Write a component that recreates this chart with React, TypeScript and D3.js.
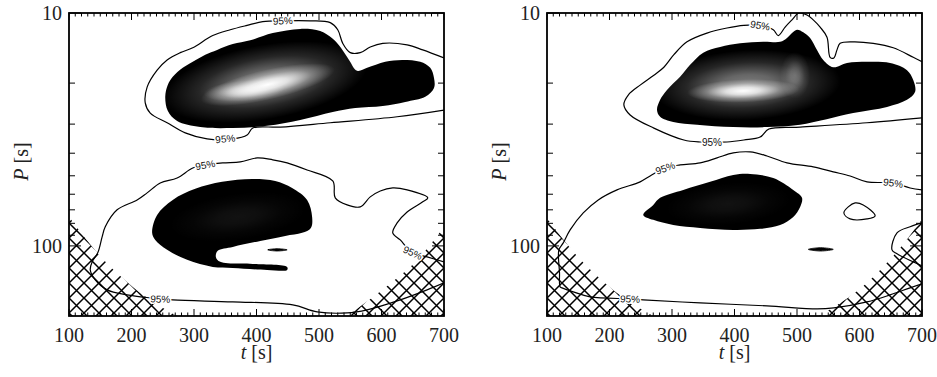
import React from "react";
import * as d3 from "d3";

type Pt = [number, number];
type Glow = { t: number; p: number; rt: number; rd: number; peak: number; angle: number; blob: number };
type Label = { t: number; p: number; angle: number };

const T_DOMAIN: Pt = [100, 700];
const P_DOMAIN: Pt = [10, 200];
const T_TICK_LABELS = [100, 200, 300, 400, 500, 600, 700];
const P_TICK_LABELS = [10, 100];
const P_MINOR_TICKS = [20, 30, 40, 50, 60, 70, 80, 90];
const CONTOUR_LABEL = "95%";

// ---------------- Left panel ----------------
const leftTopBlob: Pt[] = [
  [254, 22.9], [258, 20.4], [266, 18.8], [282, 17.2], [298, 16.2], [318, 15.1], [337, 14.4], [362, 13.6],
  [390, 13.1], [426, 12.2], [470, 11.7], [502, 11.95], [522, 12.9], [535, 14.1], [548, 15.9], [561, 17.7],
  [577, 17.2], [606, 16.2], [633, 15.9], [662, 16.2], [678, 17.2], [684, 19.0], [684, 21.0], [670, 22.9],
  [638, 24.1], [602, 25.1], [558, 25.6], [522, 26.6], [470, 28.8], [417, 30.5], [362, 31.2], [310, 30.9],
  [273, 29.1], [258, 26.3],
];
const leftBottomBlob: Pt[] = [
  [233, 87.9], [241, 73.6], [266, 63.5], [302, 56.9], [345, 53.1], [393, 51.6], [430, 52.6], [457, 56.4],
  [481, 63.5], [489, 75.1], [487, 83.7], [473, 87.9], [446, 90.6], [406, 95.2], [362, 101.0], [338, 105.0],
  [335, 111.5], [342, 117.1], [394, 119.5], [449, 123.1], [449, 126.8], [417, 126.8], [362, 124.3],
  [330, 123.1], [289, 114.8], [257, 104.0], [238, 94.3],
];
const leftSliver: Pt[] = [[418, 104], [433, 102.8], [449, 104], [433, 105.2]];
const leftContourUpper: Pt[] = [
  [700, 26.1], [625, 27.9], [518, 29.6], [438, 30.9], [394, 31.2], [385, 33.4], [362, 34.7], [321, 34.7],
  [286, 32.7], [257, 29.6], [230, 26.9], [222, 24.3], [225, 20.8], [241, 17.6], [257, 15.9], [278, 14.8],
  [298, 14.1], [330, 12.5], [358, 11.8], [385, 11.3], [410, 10.9], [442, 10.8], [486, 10.8], [518, 11.0],
  [530, 11.8], [538, 13.5], [550, 14.8], [566, 14.8], [582, 14.0], [602, 13.5], [641, 13.7], [666, 14.4],
  [700, 15.6],
];
const leftContourLower: Pt[] = [
  [700, 117.1], [673, 111.5], [650, 107.1], [641, 102.0], [630, 94.3], [618, 87.9], [625, 79.7], [641, 71.5],
  [666, 64.7], [674, 62.2], [641, 57.5], [618, 56.4], [598, 58.1], [582, 61.6], [566, 68.0], [545, 66.7],
  [526, 62.2], [522, 52.6], [481, 47.2], [449, 44.0], [426, 42.7], [401, 41.9], [374, 43.6], [346, 44.0],
  [318, 44.9], [298, 46.3], [273, 51.1], [246, 53.7], [225, 59.2], [209, 63.5], [177, 70.0], [158, 82.8],
  [153, 91.5], [146, 107.1], [137, 117.1], [134, 126.8], [142, 140.0], [161, 154.5], [193, 162.3],
  [230, 167.2], [266, 170.6], [362, 173.9], [458, 179.2], [497, 192], [545, 194], [577, 188.2],
  [630, 170.6], [673, 154.5], [700, 144.2],
];
const leftLabels: Label[] = [
  { t: 442, p: 10.8, angle: -2 },
  { t: 350, p: 34.7, angle: -5 },
  { t: 318, p: 44.9, angle: -10 },
  { t: 650, p: 107.1, angle: 24 },
  { t: 246, p: 169, angle: 2 },
];
const leftGlows: Glow[] = [
  { t: 414, p: 19.8, rt: 165, rd: 0.16, peak: 0.5, angle: -10, blob: 0 },
  { t: 418, p: 20.3, rt: 110, rd: 0.065, peak: 1, angle: -13, blob: 0 },
  { t: 380, p: 21.6, rt: 65, rd: 0.045, peak: 0.6, angle: -4, blob: 0 },
  { t: 370, p: 75, rt: 110, rd: 0.1, peak: 0.07, angle: -8, blob: 1 },
];
const leftCoiStart: Pt[] = [[100, 75], [145, 107], [202, 150], [273, 200]];
const leftCoiEnd: Pt[] = [[545, 200], [602, 154], [657, 115], [700, 83]];

// ---------------- Right panel ----------------
const rightTopBlob: Pt[] = [
  [276, 26.1], [281, 23.6], [292, 21.4], [313, 18.8], [329, 16.7], [350, 14.8], [377, 14.0], [409, 13.5],
  [446, 13.3], [473, 13.3], [484, 12.8], [492, 12.2], [500, 11.8], [510, 12.1], [521, 12.8], [532, 14.4],
  [542, 15.9], [558, 17.1], [580, 16.4], [612, 16.2], [649, 16.4], [676, 17.6], [686, 19.4], [689, 21.8],
  [676, 23.6], [644, 25.3], [590, 26.9], [505, 30.2], [452, 30.9], [398, 30.9], [340, 30.2], [302, 29.4],
  [281, 27.9],
];
const rightBottomBlob: Pt[] = [
  [254, 73.6], [270, 66.7], [281, 62.2], [318, 57.5], [361, 53.1], [398, 49.6], [425, 49.1], [462, 51.1],
  [494, 57.5], [508, 62.2], [505, 68.0], [494, 75.1], [473, 81.3], [441, 84.5], [398, 85.4], [345, 83.7],
  [302, 81.3], [270, 77.3],
];
const rightSliver: Pt[] = [[518, 103.5], [538, 101.8], [558, 103.5], [538, 105.2]];
const rightContourUpper: Pt[] = [
  [700, 28.2], [612, 29.6], [505, 30.9], [455, 31.5], [441, 34.1], [415, 35.1], [388, 35.8], [364, 35.8],
  [345, 35.8], [319, 35.1], [271, 31.2], [233, 27.4], [223, 24.8], [230, 22.5], [249, 20.4], [271, 18.5],
  [287, 17.1], [303, 15.1], [324, 13.3], [356, 12.2], [388, 11.6], [415, 11.3], [441, 11.3], [462, 11.8],
  [470, 12.5], [481, 11.5], [492, 10.7], [503, 10.0], [516, 10.2], [526, 10.7], [537, 11.5], [548, 12.7],
  [553, 15.5], [559, 15.6], [564, 14.4], [569, 13.5], [590, 13.3], [622, 13.5], [654, 14.1], [686, 15.5],
  [700, 16.2],
];
const rightContourLower: Pt[] = [
  [700, 57.5], [681, 56.4], [654, 53.7], [612, 53.1], [585, 50.1], [558, 48.1], [526, 45.8], [484, 44.0],
  [452, 41.1], [425, 39.5], [398, 39.9], [372, 41.9], [345, 44.0], [313, 44.9], [289, 46.3], [265, 50.1],
  [249, 53.1], [212, 57.5], [182, 63.5], [158, 72.2], [137, 85.4], [126, 97.1], [119, 104], [120, 130],
  [121, 150], [124, 151.4], [142, 157.5], [169, 165.5], [233, 168.9], [254, 170.6], [345, 175.7],
  [452, 181.0], [532, 186.4], [559, 184.6], [612, 173.9], [649, 162.3], [681, 151.4], [700, 145.6],
];
const rightContourOval: Pt[] = [[593, 65.4], [606, 66.7], [625, 74.3], [612, 76.6], [585, 76.6], [575, 72.2], [582, 68.0]];
const rightContourEdge: Pt[] = [[700, 79.7], [681, 82.8], [660, 87.9], [652, 104], [660, 108.2], [700, 121.8]];
const rightLabels: Label[] = [
  { t: 441, p: 11.3, angle: 10 },
  { t: 364, p: 35.8, angle: 0 },
  { t: 289, p: 46.3, angle: -20 },
  { t: 654, p: 53.7, angle: 8 },
  { t: 233, p: 168.9, angle: 2 },
];
const rightGlows: Glow[] = [
  { t: 420, p: 20.4, rt: 150, rd: 0.15, peak: 0.5, angle: -3, blob: 0 },
  { t: 414, p: 21.6, rt: 90, rd: 0.05, peak: 1, angle: -2, blob: 0 },
  { t: 497, p: 18.5, rt: 24, rd: 0.1, peak: 0.3, angle: 0, blob: 0 },
  { t: 390, p: 66, rt: 100, rd: 0.09, peak: 0.07, angle: -5, blob: 1 },
];
const rightCoiStart: Pt[] = [[100, 76], [145, 108], [200, 150], [270, 200]];
const rightCoiEnd: Pt[] = [[535, 200], [612, 144], [665, 102], [700, 77]];

type PanelData = {
  blobs: Pt[][];
  slivers: Pt[][];
  openContours: Pt[][];
  closedContours: Pt[][];
  labels: Label[];
  glows: Glow[];
  coiStart: Pt[];
  coiEnd: Pt[];
};

const W = 375;
const H = 303;
const SERIF = "'Liberation Serif', 'DejaVu Serif', serif";
const SANS = "'Liberation Sans', Arial, sans-serif";

function Panel({ id, left, top, d }: { id: string; left: number; top: number; d: PanelData }) {
  const x = d3.scaleLinear().domain(T_DOMAIN).range([0, W]);
  const y = d3.scaleLog().domain(P_DOMAIN).range([0, H]);
  const closed = d3.line<Pt>().x((p) => x(p[0])).y((p) => y(p[1])).curve(d3.curveCatmullRomClosed.alpha(0.5));
  const open = d3.line<Pt>().x((p) => x(p[0])).y((p) => y(p[1])).curve(d3.curveCatmullRom.alpha(0.5));
  const coi = d3.line<Pt>().x((p) => x(p[0])).y((p) => y(p[1])).curve(d3.curveMonotoneX);

  const coiStartPath = coi(d.coiStart) + `L${x(T_DOMAIN[0]) - 2},${y(P_DOMAIN[1]) + 2}L${x(T_DOMAIN[0]) - 2},${y(d.coiStart[0][1])}Z`;
  const coiEndPath = coi(d.coiEnd) + `L${x(T_DOMAIN[1]) + 2},${y(d.coiEnd[d.coiEnd.length - 1][1])}L${x(T_DOMAIN[1]) + 2},${y(P_DOMAIN[1]) + 2}Z`;

  const xMinor = d3.range(T_DOMAIN[0], T_DOMAIN[1] + 1, 10);

  return (
    <g transform={`translate(${left},${top})`}>
      <defs>
        <clipPath id={`${id}-plot`}>
          <rect width={W} height={H} />
        </clipPath>
        {d.blobs.map((b, i) => (
          <clipPath id={`${id}-blob${i}`} key={i}>
            <path d={closed(b) || ""} />
          </clipPath>
        ))}
        <radialGradient id={`${id}-glow`}>
          <stop offset="0" stopColor="#fff" stopOpacity={1} />
          <stop offset="0.3" stopColor="#fff" stopOpacity={0.8} />
          <stop offset="0.65" stopColor="#fff" stopOpacity={0.3} />
          <stop offset="1" stopColor="#fff" stopOpacity={0} />
        </radialGradient>
        <pattern id={`${id}-hatch`} patternUnits="userSpaceOnUse" width={15} height={15}>
          <path d="M0,0L15,15M15,0L0,15M-2,13L2,17M13,-2L17,2M-2,2L2,-2M13,17L17,13" stroke="#000" strokeWidth={1.5} fill="none" />
        </pattern>
      </defs>
      <rect width={W} height={H} fill="#fff" />
      <g clipPath={`url(#${id}-plot)`}>
        {d.blobs.map((b, i) => (
          <path key={`b${i}`} d={closed(b) || ""} fill="#000" />
        ))}
        {d.glows.map((g, i) => {
          const cx = x(g.t);
          const cy = y(g.p);
          const rx = x(g.t + g.rt) - cx;
          const ry = y(g.p * Math.pow(10, g.rd)) - cy;
          return (
            <g key={`g${i}`} clipPath={`url(#${id}-blob${g.blob})`}>
              <ellipse
                cx={cx}
                cy={cy}
                rx={rx}
                ry={ry}
                fill={`url(#${id}-glow)`}
                fillOpacity={g.peak}
                transform={`rotate(${g.angle},${cx},${cy})`}
              />
            </g>
          );
        })}
        {d.slivers.map((s, i) => (
          <path key={`s${i}`} d={closed(s) || ""} fill="#000" stroke="#000" strokeWidth={0.8} />
        ))}
        <path d={coiStartPath} fill={`url(#${id}-hatch)`} />
        <path d={coiEndPath} fill={`url(#${id}-hatch)`} />
        {d.openContours.map((c, i) => (
          <path key={`c${i}`} d={open(c) || ""} fill="none" stroke="#000" strokeWidth={1.2} strokeLinejoin="round" />
        ))}
        {d.closedContours.map((c, i) => (
          <path key={`cc${i}`} d={closed(c) || ""} fill="none" stroke="#000" strokeWidth={1.2} />
        ))}
        {d.labels.map((l, i) => (
          <text
            key={`l${i}`}
            transform={`translate(${x(l.t)},${y(l.p)}) rotate(${l.angle})`}
            textAnchor="middle"
            dy="0.36em"
            fontFamily={SANS}
            fontSize={10}
            fill="#111"
            stroke="#fff"
            strokeWidth={3}
            paintOrder="stroke"
          >
            {CONTOUR_LABEL}
          </text>
        ))}
      </g>
      {/* ticks */}
      {xMinor.map((t) => {
        const major = t % 100 === 0;
        const len = major ? 7 : 3.5;
        return (
          <g key={`xt${t}`} stroke="#000" strokeWidth={1}>
            <line x1={x(t)} x2={x(t)} y1={H} y2={H - len} />
            <line x1={x(t)} x2={x(t)} y1={0} y2={len} />
          </g>
        );
      })}
      {P_MINOR_TICKS.map((p) => (
        <g key={`ym${p}`} stroke="#000" strokeWidth={1}>
          <line x1={0} x2={6} y1={y(p)} y2={y(p)} />
          <line x1={W} x2={W - 6} y1={y(p)} y2={y(p)} />
        </g>
      ))}
      {P_TICK_LABELS.map((p) => (
        <g key={`yM${p}`} stroke="#000" strokeWidth={1}>
          <line x1={0} x2={12} y1={y(p)} y2={y(p)} />
          <line x1={W} x2={W - 12} y1={y(p)} y2={y(p)} />
        </g>
      ))}
      <rect width={W} height={H} fill="none" stroke="#000" strokeWidth={1.8} />
      {T_TICK_LABELS.map((t) => (
        <text key={`xl${t}`} x={x(t)} y={H + 26} textAnchor="middle" fontFamily={SERIF} fontSize={20} fill="#222">
          {t}
        </text>
      ))}
      {P_TICK_LABELS.map((p) => (
        <text key={`yl${p}`} x={-7} y={y(p) + 7} textAnchor="end" fontFamily={SERIF} fontSize={20} fill="#222">
          {p}
        </text>
      ))}
      <text x={W / 2} y={H + 43} textAnchor="middle" fontFamily={SERIF} fontSize={20} fill="#222">
        <tspan fontStyle="italic">t</tspan> [s]
      </text>
      <text transform={`translate(-41,${H / 2 - 3}) rotate(-90)`} textAnchor="middle" fontFamily={SERIF} fontSize={20} fill="#222">
        <tspan fontStyle="italic">P</tspan> [s]
      </text>
    </g>
  );
}

const leftData: PanelData = {
  blobs: [leftTopBlob, leftBottomBlob],
  slivers: [leftSliver],
  openContours: [leftContourUpper, leftContourLower],
  closedContours: [],
  labels: leftLabels,
  glows: leftGlows,
  coiStart: leftCoiStart,
  coiEnd: leftCoiEnd,
};

const rightData: PanelData = {
  blobs: [rightTopBlob, rightBottomBlob],
  slivers: [rightSliver],
  openContours: [rightContourUpper, rightContourLower, rightContourEdge],
  closedContours: [rightContourOval],
  labels: rightLabels,
  glows: rightGlows,
  coiStart: rightCoiStart,
  coiEnd: rightCoiEnd,
};

export default function App() {
  return (
    <svg width={937} height={377} style={{ position: "absolute", left: 0, top: 0, background: "#fff" }}>
      <rect width={937} height={377} fill="#fff" />
      <Panel id="pl" left={69} top={13} d={leftData} />
      <Panel id="pr" left={547} top={13} d={rightData} />
    </svg>
  );
}
